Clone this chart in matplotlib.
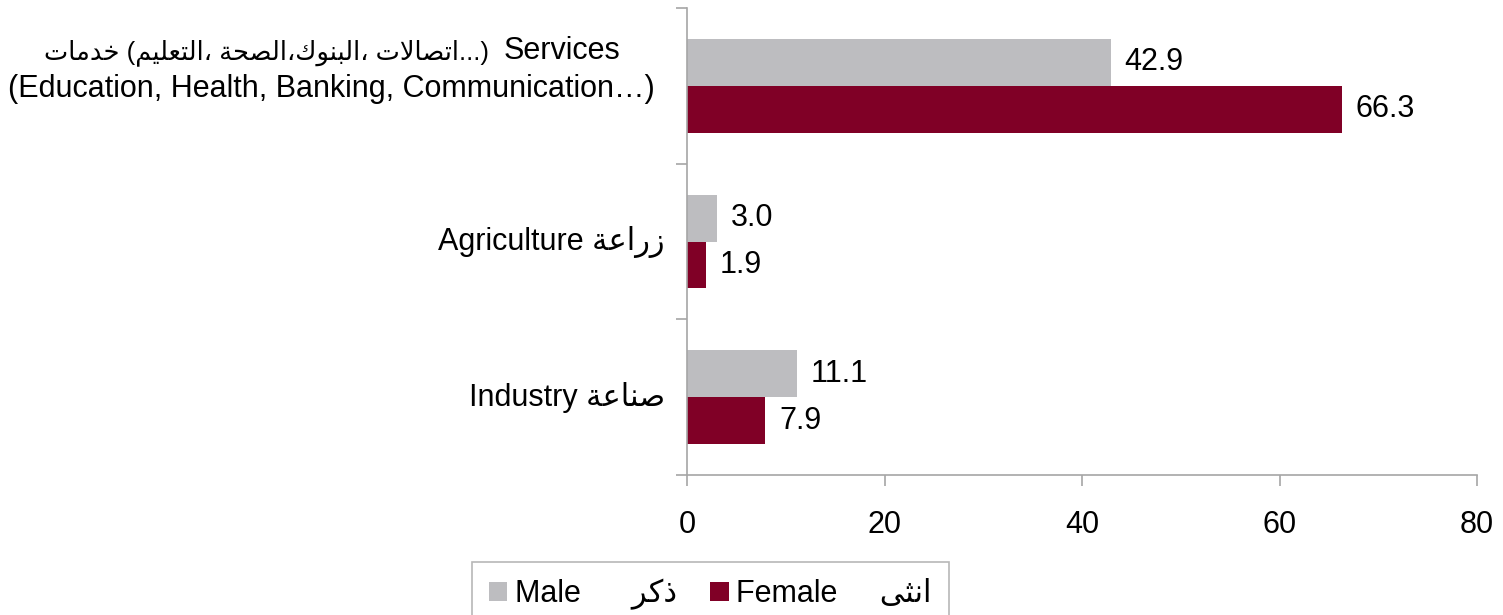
import matplotlib
matplotlib.use("Agg")
import matplotlib.pyplot as plt
import numpy as np

plt.rcParams['font.family'] = ['Liberation Sans', 'DejaVu Sans']

# Arabic words written in visual order with presentation forms (no shaping engine in matplotlib)
khadamat = "\uFE95\uFE8E\uFEE3\uFEAA\uFEA7"
taleem = "\uFEE2\uFEF4\uFEE0\uFECC\uFE98\uFEDF\uFE8D"
sehha = "\uFE94\uFEA4\uFEBC\uFEDF\uFE8D"
bunook = "\uFED9\uFEEE\uFEE8\uFE92\uFEDF\uFE8D"
ittisalat = "\uFE95\uFEFB\uFE8E\uFEBC\uFE97\uFE8D"
zeraa = "\uFE94\uFECB\uFE8D\uFEAD\uFEAF"
sinaa = "\uFE94\uFECB\uFE8E\uFEE8\uFEBB"
thakar = "\uFEAE\uFEDB\uFEAB"
untha = "\uFEF0\uFE9C\uFEE7\uFE8D"

services_ar = (khadamat + " (" + taleem + "\u060C " + sehha + "\u060C" + bunook
               + "\u060C " + ittisalat + "...)")
services_en = "Services"
services_en2 = "(Education, Health, Banking, Communication\u2026)"

# bottom to top
categories = ["Industry " + sinaa, "Agriculture " + zeraa]
male = [11.1, 3.0, 42.9]
female = [7.9, 1.9, 66.3]
series_names = ["Male      " + thakar, "Female     " + untha]

c_male = "#BDBDC0"
c_female = "#800026"
spine_c = "#A6A6A6"
fs = 22

fig = plt.figure(figsize=(15.03, 6.15), dpi=100)
ax = fig.add_axes([687 / 1503, 1 - 475 / 615, (1477 - 687) / 1503, (475 - 8) / 615])

y = np.arange(len(male))
h = 0.30
b1 = ax.barh(y + h / 2, male, height=h, color=c_male, label=series_names[0])
b2 = ax.barh(y - h / 2, female, height=h, color=c_female, label=series_names[1])

ax.bar_label(b1, labels=[f"{v:.1f}" for v in male], padding=10, fontsize=fs)
ax.bar_label(b2, labels=[f"{v:.1f}" for v in female], padding=10, fontsize=fs)

ax.set_xlim(0, 80)
ax.set_ylim(-0.5, len(male) - 0.5)
ax.set_xticks([0, 20, 40, 60, 80])
ax.set_yticks(y)
ax.set_yticklabels([])
ax.set_yticks(np.arange(-0.5, len(male)), minor=True)

# category labels
for yi, lab in zip(y[:2], categories):
    ax.annotate(lab, xy=(0, yi), xycoords=('axes fraction', 'data'),
                xytext=(-22, 0), textcoords='offset pixels',
                ha='right', va='center', fontsize=fs)

# services label: two lines, first line a bit above the category centre
ax.annotate(services_en2, xy=(0, y[2]), xycoords=('axes fraction', 'data'),
            xytext=(-32, -3), textcoords='offset pixels',
            ha='right', va='center', fontsize=fs)
ax.annotate(services_en, xy=(0, y[2]), xycoords=('axes fraction', 'data'),
            xytext=(-67, 27), textcoords='offset pixels',
            ha='right', va='baseline', fontsize=fs)
ax.annotate(services_ar, xy=(0, y[2]), xycoords=('axes fraction', 'data'),
            xytext=(-198, 27), textcoords='offset pixels',
            ha='right', va='baseline', fontsize=18.5)

ax.tick_params(axis='x', length=8, width=1.2, color=spine_c, labelsize=fs, pad=17)
ax.tick_params(axis='y', which='major', length=0)
ax.tick_params(axis='y', which='minor', length=8, width=1.2, color=spine_c)

for s in ['top', 'right']:
    ax.spines[s].set_visible(False)
for s in ['left', 'bottom']:
    ax.spines[s].set_color(spine_c)
    ax.spines[s].set_linewidth(1.2)

leg = fig.legend(loc='upper left', bbox_to_anchor=(472 / 1503, 1 - 562 / 615),
                 ncol=2, fontsize=fs, frameon=True, fancybox=False,
                 handlelength=0.6, handleheight=0.6, handletextpad=0.25,
                 columnspacing=1.1, borderpad=0.55, borderaxespad=0)
leg.get_frame().set_edgecolor(spine_c)
leg.get_frame().set_linewidth(1.2)

fig.savefig("out.png", dpi=100)
